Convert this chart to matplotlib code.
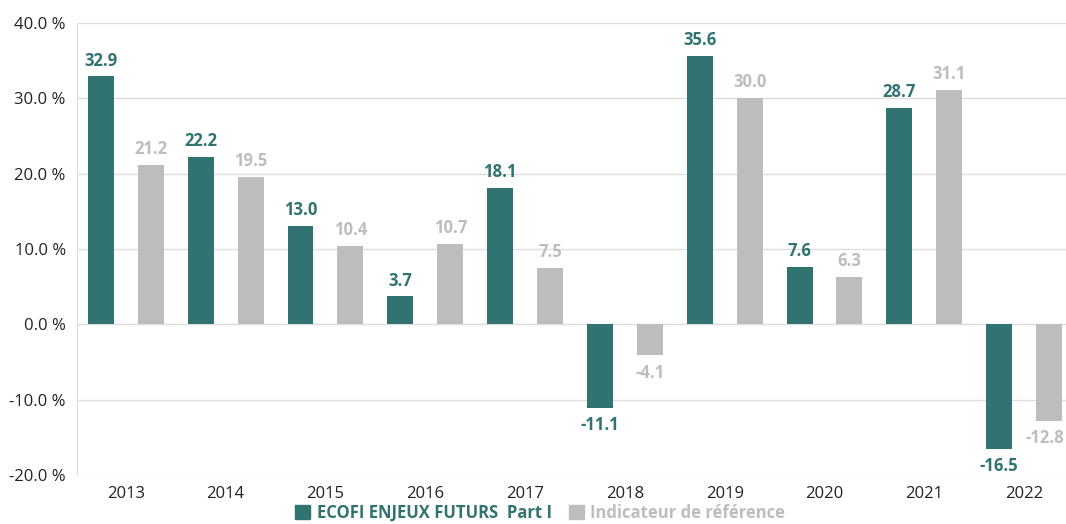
import numpy as np
import matplotlib.pyplot as plt
from matplotlib.patches import Patch
from matplotlib.ticker import FuncFormatter

plt.rcParams['font.family'] = ['Open Sans', 'DejaVu Sans']

years = ['2013', '2014', '2015', '2016', '2017', '2018', '2019', '2020', '2021', '2022']
fonds = [32.9, 22.2, 13.0, 3.7, 18.1, -11.1, 35.6, 7.6, 28.7, -16.5]
indic = [21.2, 19.5, 10.4, 10.7, 7.5, -4.1, 30.0, 6.3, 31.1, -12.8]
names = ['ECOFI ENJEUX FUTURS  Part I', 'Indicateur de référence']

teal = '#317370'
grey = '#BDBDBD'

fig = plt.figure(figsize=(10.66, 5.24), dpi=100)
ax = fig.add_axes([0.0722, 0.0935, 0.9278, 0.8626])

x = np.arange(len(years))
w = 0.26
b1 = ax.bar(x - 0.25, fonds, w, color=teal, zorder=3)
b2 = ax.bar(x + 0.25, indic, w, color=grey, zorder=3)

for bars, vals, c in [(b1, fonds, teal), (b2, indic, grey)]:
    for i, (r, v) in enumerate(zip(bars, vals)):
        xc = r.get_x() + r.get_width() / 2
        # last label sits at the right edge, nudge it in so it stays readable
        dx = -3 if (c == grey and i == len(vals) - 1) else 0
        if v >= 0:
            ax.annotate(f'{v:.1f}', (xc, v), xytext=(dx, 5), textcoords='offset points',
                        ha='center', va='bottom', color=c, fontsize=12, fontweight='bold')
        else:
            ax.annotate(f'{v:.1f}', (xc, v), xytext=(dx, -6), textcoords='offset points',
                        ha='center', va='top', color=c, fontsize=12, fontweight='bold',
                        annotation_clip=False)

ax.set_ylim(-20, 40)
ax.set_yticks(np.arange(-20, 41, 10))
ax.yaxis.set_major_formatter(FuncFormatter(lambda v, p: f'{v:.1f} %'))
ax.set_xlim(-0.49, 9.42)
ax.set_xticks(x)
ax.set_xticklabels(years)
ax.grid(axis='y', color='#DDDDDD', linewidth=1, zorder=0)
for s in ['top', 'right', 'bottom']:
    ax.spines[s].set_visible(False)
ax.spines['left'].set_color('#DDDDDD')
ax.tick_params(length=0, labelsize=12, colors='#222222', pad=8)

leg = fig.legend(handles=[Patch(color=teal), Patch(color=grey)], labels=names,
                 loc='center', bbox_to_anchor=(0.507, 0.021), ncol=2, frameon=False,
                 handlelength=0.9, handleheight=0.9, handletextpad=0.4, columnspacing=1.0,
                 borderpad=0.1, prop={'weight': 'bold', 'size': 12})
for t, c in zip(leg.get_texts(), [teal, grey]):
    t.set_color(c)

fig.savefig('out.png', dpi=100)
